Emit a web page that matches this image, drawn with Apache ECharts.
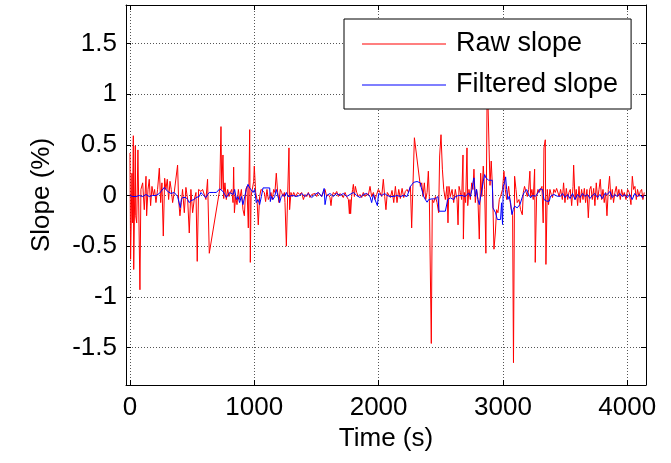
<!DOCTYPE html>
<html>
<head>
<meta charset="utf-8">
<script src="https://cdn.jsdelivr.net/npm/echarts@6/dist/echarts.min.js"></script>
<style>
  html, body { margin: 0; padding: 0; background: #fff; }
  #chart { width: 671px; height: 463px; }
</style>
</head>
<body>
<div id="chart"></div>
<script>
// raw slope
var rawTime = [0, 5, 16, 20, 27, 30, 43, 46, 54, 64, 80, 88, 102, 115, 129, 134, 145, 155, 166, 177, 188, 198, 209, 222, 236, 247, 257, 268, 279, 289, 300, 311, 322, 332, 343, 356, 370, 383, 391, 402, 413, 423, 437, 450, 464, 477, 490, 504, 517, 531, 541, 552, 571, 584, 600, 611, 624, 638,
  722, 732, 738, 748, 754, 764, 775, 786, 797, 807, 818, 829, 834, 840, 850, 861, 872, 882, 896, 909, 920, 931, 941, 952, 957, 963, 968, 974, 984, 995, 1000, 1011, 1022, 1032, 1043, 1054, 1070, 1081, 1091, 1102, 1113, 1124, 1134, 1145, 1156, 1166, 1177, 1188, 1199, 1209, 1220, 1231, 1242, 1247, 1258, 1268, 1279, 1284, 1295, 1306, 1317, 1333, 1349, 1365,
  1381, 1395, 1408, 1422, 1435, 1448, 1462, 1475, 1489, 1502, 1515, 1529, 1542, 1556, 1569, 1582, 1596, 1609, 1617, 1625, 1636, 1649, 1663, 1676, 1690, 1703, 1716, 1730, 1743, 1757, 1765, 1770, 1775, 1783, 1791, 1797, 1805, 1813, 1824, 1837, 1850, 1864, 1877, 1891, 1904, 1917, 1931, 1944, 1958, 1971, 1984, 1998, 2011, 2025, 2038, 2049, 2059, 2070,
  2081, 2095, 2108, 2122, 2135, 2148, 2162, 2175, 2189, 2202, 2215, 2229, 2240, 2256, 2266, 2277, 2288, 2336, 2347, 2357, 2368, 2379, 2390, 2400, 2408, 2424, 2432, 2443, 2457, 2470, 2483, 2491, 2502, 2513, 2524, 2537, 2550, 2558, 2566, 2577, 2591, 2604, 2617, 2631, 2639, 2647, 2658, 2668, 2679, 2682, 2690, 2700, 2711, 2717, 2727, 2738, 2749, 2759,
  2767, 2778, 2788, 2799, 2810, 2821, 2831, 2842, 2853, 2863, 2874, 2885, 2896, 2906, 2917, 2928, 2939, 2949, 2960, 2971, 2981, 2997, 3008, 3019, 3030, 3035, 3046, 3056, 3067, 3078, 3085, 3094, 3105, 3115, 3129, 3142, 3156, 3164, 3174, 3185, 3196, 3207, 3217, 3223, 3233, 3244, 3255, 3260, 3271, 3282, 3292, 3303, 3314, 3324, 3330, 3341, 3346, 3357, 3367, 3378, 3389, 3399, 3410, 3421, 3432, 3442, 3453, 3464,
  3478, 3488, 3499, 3510, 3521, 3531, 3542, 3553, 3564, 3569, 3580, 3590, 3601, 3612, 3622, 3633, 3644, 3655, 3665, 3676, 3687, 3698, 3708, 3719, 3730, 3740, 3751, 3762, 3773, 3783, 3794, 3805, 3815, 3826, 3837, 3848, 3858, 3869, 3880, 3890, 3901, 3912, 3923, 3933, 3944, 3955, 3966, 3976, 3990, 4003, 4016, 4030, 4041, 4051, 4062, 4073, 4083, 4094, 4105, 4116, 4126, 4137];
var rawSlope = [0.42, -0.63, 0.22, -0.27, 0.59, -0.73, 0.49, -0.2, -0.27, 0.45, -0.93, 0.06, 0.125, -0.14, 0.19, -0.2, 0.06, 0.16, -0.1, 0.09, 0, 0.06, -0.07, 0.06, 0.27, -0.07, 0.125, -0.4, 0.17, 0.06, 0.16, -0.04, 0.14, 0.06, -0.07, 0.03, 0.04, 0.3, -0.04, -0.2, -0.07, 0.06, -0.17, 0.08, -0.04, -0.37, 0.06, -0.17, -0.04, 0.03, -0.65, 0.06, 0.04, 0.06, 0.07, -0.04, 0.16, -0.57,
  0.06, 0.68, 0.06, 0.4, -0.03, 0.125, -0.04, 0.06, -0.01, 0.03, 0.06, -0.07, 0.28, -0.17, -0.01, -0.09, 0.06, -0.04, 0.06, -0.14, -0.2, 0.06, 0.09, -0.32, 0.125, 0.65, -0.66, -0.01, 0.06, 0.14, 0.29, 0.03, -0.04, -0.29, -0.01, 0.06, 0.06, 0.03, -0.06, 0.06, -0.04, -0.01, 0.03, -0.04, 0.06, 0.03, 0.22, 0.03, -0.07, 0.06, 0.03, -0.01, 0.03, -0.07, -0.5, -0.01, 0.47, -0.14, 0.03, -0.01, 0.03, -0.01, 0.03, 0.01,
  0.03, -0.04, 0.01, -0.01, 0.03, -0.02, 0.01, 0, 0.02, -0.01, 0.03, 0.04, -0.01, 0.03, 0.06, -0.01, 0.01, -0.02, -0.1, -0.01, 0.03, 0.01, 0.04, -0.01, 0.02, 0, -0.02, 0.03, -0.01, -0.04, -0.18, -0.04, -0.18, -0.01, 0.06, 0.11, -0.01, 0.09, 0.03, -0.01, 0.01, -0.02, 0.03, -0.01, 0.02, 0, 0.09, -0.01, 0.03, -0.04, 0.01, 0.06, 0.03, -0.01, 0.16, -0.01, -0.14, 0.03,
  0.04, -0.02, 0.05, -0.07, 0.09, -0.07, 0.06, -0.03, 0.07, -0.02, 0.04, 0.06, 0.03, 0.09, -0.32, -0.32, 0.57, 0.09, 0.125, -0.01, 0.125, -0.04, 0.03, 0.24, -0.01, -1.46, -0.04, -0.07, -0.01, -0.07, -0.17, 0.39, 0.6, 0.26, 0.06, -0.04, 0.09, -0.27, 0.09, -0.01, 0.06, -0.07, 0.06, -0.04, -0.29, 0.09, 0.03, -0.04, 0.4, -0.43, 0.03, -0.07, 0.47, -0.1, 0.06, -0.04, 0.125, 0.06,
  0.26, -0.07, 0.06, -0.04, -0.43, 0.22, -0.01, 0.29, 0.06, -0.57, 1.2, 1.2, 0.1, 0.34, 0.05, -0.53, -0.37, -0.14, -0.17, -0.04, -0.01, 0.06, 0.24, 0.06, -0.04, -0.01, 0.09, -0.04, -0.14, -0.2, -1.65, 0.19, 0.06, -0.07, -0.04, -0.14, -0.19, 0.03, 0.09, 0.04, -0.01, 0.06, 0.24, -0.01, 0.06, -0.04, 0.26, -0.66, -0.01, 0.06, 0.03, 0.03, 0.09, -0.27, 0.47, 0.55, -0.68, 0.06, -0.09, 0.06, 0.01, -0.02, 0.06, 0.03, 0.07, 0.06, -0.01, 0.06,
  -0.04, 0.125, -0.07, 0.07, -0.04, 0.03, 0.06, -0.1, 0.09, 0.3, -0.04, 0.06, -0.1, 0.09, -0.07, 0.06, -0.04, 0.07, -0.07, 0.06, -0.22, 0.06, 0.09, -0.04, 0.07, -0.1, 0.125, -0.04, 0.06, 0.16, -0.04, 0.06, -0.07, 0.03, -0.2, 0.06, 0.19, -0.04, 0.06, -0.07, 0.03, 0.09, -0.01, 0.06, -0.04, 0.06, -0.01, 0.03, -0.04, 0.06, 0.03, -0.09, 0.19, 0.06, 0.09, -0.04, 0.06, -0.01, 0.04, 0.06, -0.04, 0.03];

// filtered slope
var filtTime = [0, 21, 48, 75, 102, 129, 155, 182, 209, 236, 249, 263, 276, 289, 303, 316, 330, 343, 356, 370, 383, 397, 405, 413, 423, 437, 450, 464, 477, 490, 504, 517, 531, 544, 557, 571, 584, 598, 611, 624, 638, 651, 675,
  695, 722, 735, 748, 762, 775, 789, 802, 815, 829, 842, 856, 869, 882, 896, 909, 923, 936, 949, 963, 976, 990, 1003, 1016, 1030, 1043, 1057, 1070, 1124, 1129, 1137, 1150, 1164, 1177, 1191, 1204, 1217, 1231, 1244, 1258, 1271, 1284, 1311, 1338, 1365,
  1381, 1408, 1435, 1462, 1489, 1515, 1542, 1562, 1569, 1582, 1609, 1636, 1663, 1690, 1716, 1743, 1770, 1797, 1824, 1850, 1877, 1904, 1931, 1944, 1958, 1971, 1990, 2000, 2025, 2049,
  2068, 2095, 2122, 2148, 2175, 2202, 2215, 2229, 2242, 2256, 2269, 2282, 2296, 2309, 2323, 2336, 2344, 2352, 2363, 2376, 2390, 2403, 2416, 2430, 2443, 2457, 2470, 2478, 2486, 2497, 2510, 2524, 2537, 2545, 2556, 2566, 2577, 2591, 2604, 2617, 2631, 2644, 2658, 2671, 2685, 2698, 2711, 2725, 2738, 2751, 2759,
  2767, 2778, 2788, 2799, 2810, 2821, 2831, 2842, 2853, 2863, 2874, 2885, 2901, 2914, 2920, 2928, 2941, 2955, 2968, 2981, 2989, 2997, 3003, 3013, 3022, 3030, 3040, 3051, 3062, 3073, 3083, 3094, 3105, 3115, 3126, 3137, 3148, 3158, 3169, 3180, 3191, 3201, 3212, 3223, 3236, 3249, 3263, 3276, 3290, 3298, 3308, 3319, 3330, 3341, 3351, 3362, 3373, 3383, 3394, 3410, 3424, 3437, 3450, 3464,
  3480, 3500, 3520, 3540, 3560, 3580, 3600, 3620, 3640, 3660, 3680, 3700, 3720, 3740, 3760, 3780, 3800, 3820, 3840, 3860, 3880, 3900, 3920, 3940, 3960, 3980, 4000, 4020, 4040, 4060, 4080, 4100, 4120, 4137];
var filtSlope = [0, -0.01, -0.01, 0, -0.01, 0.01, -0.01, 0, 0, 0.02, 0.04, 0.04, 0.08, 0.085, 0.04, 0.03, 0.02, 0.01, 0.03, 0.04, -0.01, -0.02, -0.12, -0.04, -0.02, -0.03, -0.02, -0.04, -0.07, -0.05, -0.05, -0.04, -0.02, -0.01, -0.01, 0.03, 0.01, 0, -0.02, 0.01, 0.03, 0.03, 0.03,
  0.03, 0.066, 0.06, 0.04, 0.01, -0.02, -0.01, 0.03, 0.04, 0.01, 0.06, -0.04, -0.01, -0.07, -0.01, -0.09, -0.01, 0.06, 0.11, 0.075, 0.06, 0.03, 0.06, -0.07, -0.04, -0.09, -0.01, 0.075, 0.075, -0.06, -0.01, -0.04, -0.01, 0.06, 0.075, -0.07, -0.01, 0.01, -0.01, 0.03, -0.01, 0, 0, -0.01, 0,
  0.02, -0.01, 0.02, -0.02, 0.01, 0.03, -0.01, 0.07, -0.09, 0, 0.02, -0.01, 0.02, 0, 0.02, -0.01, 0.01, 0.03, 0, -0.02, 0.01, 0.02, -0.01, -0.07, 0.01, -0.04, -0.1, 0.02, 0, 0.02,
  0, -0.01, -0.01, 0, -0.01, 0, -0.01, -0.01, 0, 0.09, 0.11, 0.13, 0.138, 0.138, 0.138, 0.125, 0.075, 0.06, -0.01, -0.04, -0.066, -0.04, -0.033, -0.033, -0.033, -0.033, -0.023, -0.01, -0.155, -0.155, -0.155, -0.155, -0.155, -0.17, -0.04, -0.023, -0.023, -0.01, -0.04, -0.01, -0.023, 0, -0.01, 0, -0.01, -0.01, 0, 0.026, -0.01, 0.06, 0.125,
  0.174, -0.01, 0.06, -0.04, -0.09, -0.105, 0.06, 0.14, 0.207, 0.174, 0.158, 0.151, 0.151, 0.151, -0.122, -0.138, -0.171, -0.237, -0.243, -0.237, -0.072, -0.286, 0.092, 0.125, 0.184, 0.059, -0.039, -0.007, -0.072, -0.188, -0.138, -0.105, -0.122, -0.122, -0.105, -0.089, -0.105, -0.007, 0.026, 0.043, 0.059, 0.026, 0, -0.023, 0, -0.007, -0.007, 0.01, 0.043, 0.066, 0.066, 0.059, -0.039, -0.056, -0.056, -0.056, -0.056, -0.007, 0, 0.01, 0, -0.007, 0, -0.007,
  0.02, -0.02, 0.01, -0.03, 0.02, -0.04, 0.01, -0.02, 0.02, -0.01, 0.01, -0.03, 0, 0.02, -0.02, 0.01, -0.03, 0.02, 0.01, 0.04, -0.02, 0.01, -0.01, 0.02, -0.01, 0.01, -0.02, 0.01, -0.04, 0.02, -0.01, 0.01, -0.02, 0];

// tick positions
var xTicks = [0, 1000, 2000, 3000, 4000];
var yTicks = [-1.5, -1, -0.5, 0, 0.5, 1, 1.5];

var xMin = -32, xMax = 4151;
var yMin = -1.87, yMax = 1.88;

function pairs(xs, ys) {
    var out = [];
    for (var i = 0; i < xs.length; i++) out.push([xs[i], ys[i]]);
    return out;
}

var font = "'Liberation Sans', Arial, sans-serif";
var chart = echarts.init(document.getElementById("chart"));

function gridLine(vals) {
    return { show: true, customValues: vals, lineStyle: { color: '#555', type: [1, 2], width: 1 } };
}
function tick(vals) {
    return { show: true, inside: true, length: 5, customValues: vals, lineStyle: { color: '#000' } };
}
var axisLine = { show: true, onZero: false, lineStyle: { color: '#000', width: 1 } };
var plain = function (v) { return String(v); };

chart.setOption({
    animation: false,
    backgroundColor: '#fff',
    textStyle: { fontFamily: font },
    grid: { left: 126, right: 25, top: 5, bottom: 78, containLabel: false },
    legend: {
        orient: 'vertical',
        left: 344,
        top: 19,
        z: 10,
        backgroundColor: '#fff',
        borderColor: '#000',
        borderWidth: 1,
        borderRadius: 0,
        padding: [10, 13, 9, 18],
        itemWidth: 84,
        itemHeight: 1.5,
        itemGap: 11,
        icon: 'path://M0,0 L100,0 L100,1 L0,1 Z',
        textStyle: { fontSize: 27, lineHeight: 30, color: '#000', fontFamily: font, padding: [0, 0, 0, 5] },
        data: ['Raw slope', 'Filtered slope']
    },
    xAxis: [{
        type: 'value',
        min: xMin,
        max: xMax,
        name: 'Time (s)',
        nameLocation: 'middle',
        nameGap: 41,
        nameTextStyle: { fontSize: 26, color: '#000' },
        axisLine: axisLine,
        axisTick: tick(xTicks),
        splitLine: gridLine(xTicks),
        axisLabel: { fontSize: 26, color: '#000', margin: 10, customValues: xTicks, formatter: plain }
    }, {
        type: 'value',
        position: 'top',
        min: xMin,
        max: xMax,
        axisLine: axisLine,
        axisTick: tick(xTicks),
        splitLine: { show: false },
        axisLabel: { show: false }
    }],
    yAxis: [{
        type: 'value',
        min: yMin,
        max: yMax,
        name: 'Slope (%)',
        nameLocation: 'middle',
        nameGap: 71,
        nameTextStyle: { fontSize: 26, color: '#000' },
        axisLine: axisLine,
        axisTick: tick(yTicks),
        splitLine: gridLine(yTicks),
        axisLabel: { fontSize: 26, color: '#000', margin: 9, customValues: yTicks, formatter: plain }
    }, {
        type: 'value',
        position: 'right',
        min: yMin,
        max: yMax,
        axisLine: axisLine,
        axisTick: tick(yTicks),
        splitLine: { show: false },
        axisLabel: { show: false }
    }],
    series: [{
        name: 'Raw slope',
        type: 'line',
        data: pairs(rawTime, rawSlope),
        symbol: 'none',
        lineStyle: { color: '#ff0000', width: 1 },
        itemStyle: { color: '#ff0000' }
    }, {
        name: 'Filtered slope',
        type: 'line',
        data: pairs(filtTime, filtSlope),
        symbol: 'none',
        lineStyle: { color: '#0000ff', width: 1 },
        itemStyle: { color: '#0000ff' }
    }]
});
</script>
</body>
</html>
